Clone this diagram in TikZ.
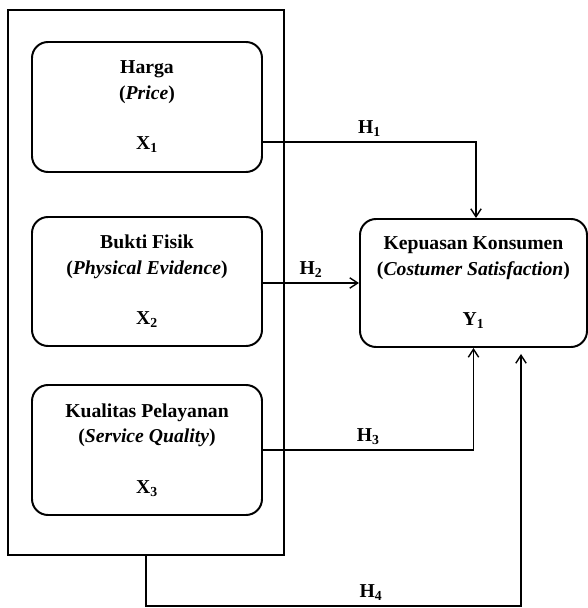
\documentclass[tikz,border=0pt]{standalone}
\usepackage{fontspec}
\setmainfont{Liberation Serif}
\usetikzlibrary{arrows.meta}

\tikzset{
    varbox/.style = {draw, line width = 1.4pt, rounded corners = 0.4cm, align = center,
                     minimum width = 5.75cm, minimum height = 3.25cm,
                     font = \fontsize{14}{18}\selectfont\bfseries},
    groupbox/.style = {draw, line width = 1.4pt, minimum width = 6.9cm, minimum height = 13.625cm},
    link/.style = {line width = 1pt, -{Straight Barb[length=2mm, width=2.6mm]}},
    hyp/.style = {above, font = \fontsize{14}{17}\selectfont\bfseries}
}

\begin{document}
\begin{tikzpicture}
            \useasboundingbox (0,0) rectangle (14.7,15.2);

            \node[groupbox] (outer) at (3.65,8.1375) {};

            \node[varbox] (harga) at (3.675,12.525) {Harga\\(\textit{Price})\\[18pt]X\textsubscript{1}};
            \node[varbox, minimum height = 3.225cm] (bukti) at (3.675,8.1625) {Bukti Fisik\\(\textit{Physical Evidence})\\[18pt]X\textsubscript{2}};
            \node[varbox] (kualitas) at (3.675,3.95) {Kualitas Pelayanan\\(\textit{Service Quality})\\[18pt]X\textsubscript{3}};

            \node[varbox, minimum width = 5.675cm, minimum height = 3.2cm] (kepuasan) at (11.8375,8.125) {Kepuasan Konsumen\\(\textit{Costumer Satisfaction})\\[18pt]Y\textsubscript{1}};

            \coordinate (h1) at (11.9,11.65);
            \coordinate (h4) at (13.025,0.05);

            \draw[link] (h1 -| harga.east) -- node[hyp] {H\textsubscript{1}} (h1) -- (h1 |- kepuasan.north);
            \draw[link] (bukti.east |- kepuasan.west) -- node[hyp] {H\textsubscript{2}} (kepuasan.west);
            \draw[link] (kualitas.east) -- node[hyp] {H\textsubscript{3}} (kualitas.east -| kepuasan.south) -- (kepuasan.south);
            \draw[link, shorten > = 0.15cm] (outer.south) |- node[hyp, pos = 0.8] {H\textsubscript{4}} (h4) -- (h4 |- kepuasan.south);
        \end{tikzpicture}
\end{document}
